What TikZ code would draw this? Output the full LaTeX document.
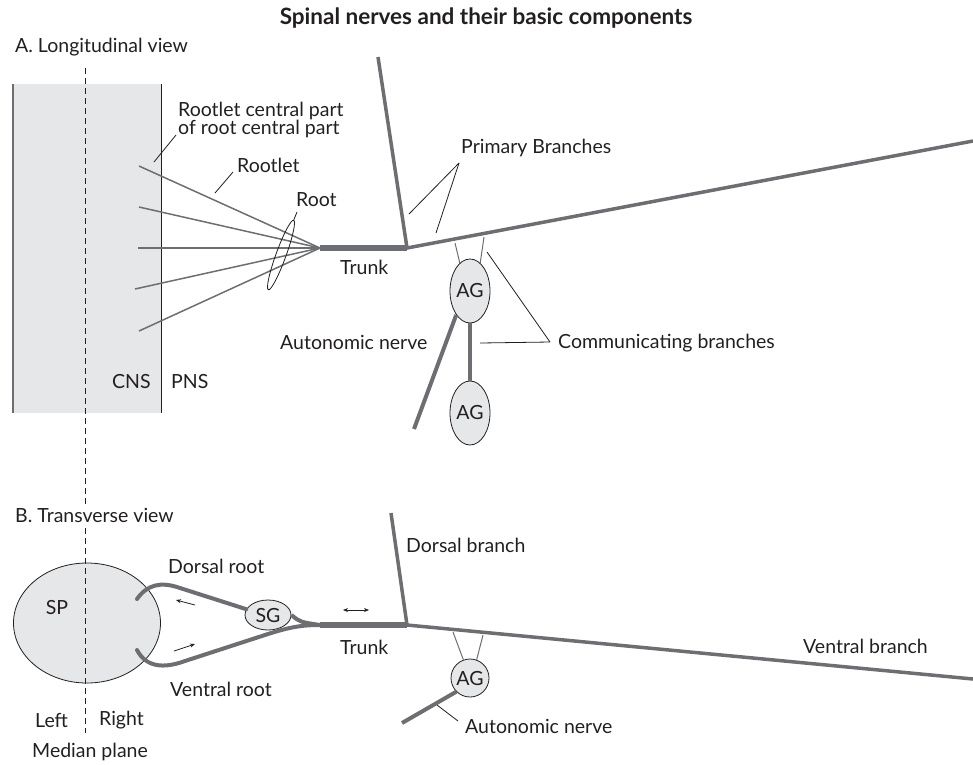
\documentclass[tikz,border=0pt]{standalone}
\usepackage{fontspec}
\setmainfont{Lato}
\usetikzlibrary{shapes.geometric,arrows.meta}
\definecolor{nerve}{HTML}{6D6E71}
\definecolor{tissue}{HTML}{E6E7E8}
\definecolor{ink}{HTML}{231F20}
\tikzset{
  lbl/.style={font=\fontsize{19.5}{18}\selectfont, text=ink, inner sep=0pt, anchor=west},
  ttl/.style={font=\bfseries\fontsize{22.5}{24}\selectfont, text=ink, inner sep=0pt},
  rootlet/.style={draw=nerve, line width=1.5pt},
  branch/.style={draw=nerve, line width=3.5pt},
  trunkline/.style={draw=nerve, line width=6.5pt},
  rootline/.style={draw=nerve, line width=4pt, line cap=round},
  comm/.style={draw=nerve, line width=1pt},
  leader/.style={draw=ink, line width=0.8pt},
  ganglion/.style={ellipse, draw=ink, line width=0.8pt, fill=tissue, inner sep=0pt,
    font=\fontsize{19.5}{21}\selectfont, text=ink},
}
\begin{document}
\begin{tikzpicture}[x=1pt, y=-1pt]
\useasboundingbox (0,0) rectangle (973,764);

% ---- title ----
\node[ttl] (title) at (486,18) {Spinal nerves and their basic components};

% ---- A: longitudinal view ----
\fill[tissue] (12,84) rectangle (161,413);
\draw[nerve, line width=2pt] (13,84) -- (13,413);
\draw[ink, line width=0.8pt] (161,84) -- (161,413);

% ---- B: spinal cord section ----
\node[ellipse, draw=ink, line width=0.8pt, fill=tissue, minimum width=147pt, minimum height=120pt] (sp) at (87,623) {};

% median plane
\draw[ink, line width=0.8pt, dash pattern=on 6pt off 4pt] (85,68) -- (85,733);

\node[lbl] (viewA) at (15,47) {A. Longitudinal view};
\node[lbl, fill=white, inner ysep=3pt] (viewB) at (15,515) {B. Transverse view};

% rootlets converging to the trunk
\coordinate (conv) at (320,248);
\coordinate (r1) at (139,166);
\coordinate (r2) at (139,207);
\coordinate (r3) at (138,248);
\coordinate (r4) at (135,289);
\coordinate (r5) at (139,331);
\foreach \r in {r1,r2,r3,r4,r5} \draw[rootlet] (\r) -- (conv);

% trunk and primary branches
\coordinate (fork) at (407,248);
\coordinate (dorsA) at (378,57);
\coordinate (ventA) at (973,141);
\draw[trunkline] (conv) -- (fork);
\draw[branch] (dorsA) -- (fork) -- (ventA);

% root bundle outline
\node[ellipse, draw=ink, line width=0.8pt, minimum width=74pt, minimum height=10pt, inner sep=0pt, rotate=70] (rootring) at (281,255) {};

% autonomic ganglia
\node[ganglion, minimum width=40pt, minimum height=64pt] (ag1) at (470,291) {AG};
\node[ganglion, minimum width=40pt, minimum height=64pt] (ag2) at (470,413) {AG};
\coordinate (c1a) at (455,243);
\coordinate (c1b) at (484,237);
\draw[comm] (c1a) -- (ag1.110);
\draw[comm] (c1b) -- (ag1.70);
\draw[rootline, line cap=butt] (ag1.south) -- (ag2.north);
\coordinate (autA) at (414,429);
\draw[rootline, line cap=butt] (ag1.240) -- (autA);

% labels A
\node[lbl, anchor=north west, align=left] (rc) at (178,102) {Rootlet central part\\of root central part};
\node[lbl] (rootletlbl) at (237,165) {Rootlet};
\node[lbl] (rootlbl) at (296,200) {Root};
\node[lbl] (trunkA) at (340,267) {Trunk};
\node[lbl] (primary) at (461,148) {Primary Branches};
\node[lbl] (autlblA) at (280,342) {Autonomic nerve};
\node[lbl] (commlbl) at (558,343) {Communicating branches};
\node[lbl] (cns) at (112,382) {CNS};
\node[lbl] (pns) at (171,382) {PNS};

% leaders A
\coordinate (lrc) at (176,135);
\coordinate (lrl) at (233,172);
\coordinate (lrt) at (297,212);
\coordinate (lpb) at (459,163);
\coordinate (lcm) at (550,342);
\draw[leader] (lrc) -- (154,162);
\draw[leader] (lrl) -- (215,193);
\draw[leader] (lrt) -- (rootring.east);
\draw[leader] (lpb) -- (409,214);
\draw[leader] (lpb) -- (436,233);
\draw[leader] (lcm) -- (487,252);
\draw[leader] (lcm) -- (480,343);

% ---- B: transverse view ----
\node[lbl, anchor=center] (splbl) at (57,607) {SP};
\node[ganglion, minimum width=46pt, minimum height=30pt] (sg) at (268,615) {SG};

\coordinate (drs) at (137,599);
\coordinate (vrs) at (137,650);
\coordinate (trB) at (320,625);
\coordinate (forkB) at (407,625);
\coordinate (dorsB) at (391,513);
\coordinate (ventB) at (973,679);

\draw[rootline] (drs) .. controls (147,585) and (160,581) .. (180,588) -- (sg.165);
\draw[rootline, line cap=butt] (sg.east) .. controls (300,622) .. (trB);
\draw[rootline] (vrs) .. controls (146,667) and (163,669) .. (185,661)
   -- (268,634) .. controls (290,627) and (302,625) .. (trB);
\draw[trunkline] (trB) -- (forkB);
\draw[branch] (dorsB) -- (forkB) -- (ventB);

\node[ganglion, circle, minimum size=38pt] (agB) at (470,678) {AG};
\coordinate (c2a) at (453,632);
\coordinate (c2b) at (483,635);
\draw[comm] (c2a) -- (agB.110);
\draw[comm] (c2b) -- (agB.70);
\coordinate (autB) at (402,723);
\draw[rootline, line cap=butt] (agB.225) -- (autB);

% direction arrows
\draw[ink, line width=0.8pt, -{Stealth[length=5pt,width=4pt]}] (195,605) -- (176,600);
\draw[ink, line width=0.8pt, -{Stealth[length=5pt,width=4pt]}] (174,651) -- (195,644);
\draw[ink, line width=0.8pt, {Stealth[length=5pt,width=4pt]}-{Stealth[length=5pt,width=4pt]}] (343,610) -- (369,610);

% labels B
\node[lbl] (dr) at (168,566) {Dorsal root};
\node[lbl] (vr) at (170,689) {Ventral root};
\node[lbl] (trunkB) at (340,647) {Trunk};
\node[lbl] (db) at (406,545) {Dorsal branch};
\node[lbl] (vb) at (803,646) {Ventral branch};
\node[lbl] (autlblB) at (465,726) {Autonomic nerve};
\node[lbl] (left) at (35,720) {Left};
\node[lbl] (right) at (99,720) {Right};
\node[lbl] (median) at (32,752) {Median plane};
\draw[leader] (autlblB.west) ++(-7,-5) -- (437,705);
\end{tikzpicture}
\end{document}
